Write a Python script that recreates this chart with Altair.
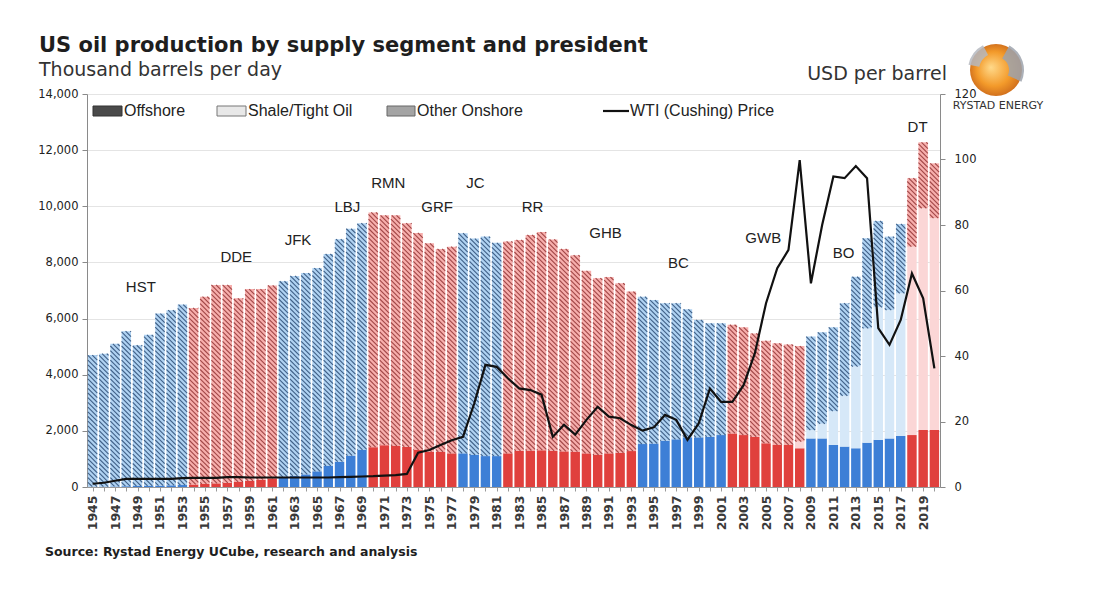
import math
import altair as alt
import pandas as pd

# ---------------- data ----------------
years = list(range(1945, 2021))

total = [4700, 4750, 5100, 5550, 5050, 5420, 6180, 6300, 6500,
         6380, 6780, 7200, 7200, 6720, 7050, 7050, 7180,
         7330, 7520, 7620, 7800, 8300, 8830, 9200, 9400,
         9780, 9680, 9680, 9400, 9050, 8680, 8480, 8560,
         9040, 8850, 8920, 8700,
         8750, 8800, 8980, 9080, 8820, 8480, 8260, 7700, 7440, 7480, 7260, 6960,
         6780, 6660, 6550, 6550, 6330, 5950, 5830, 5830,
         5780, 5690, 5470, 5210, 5120, 5080, 5020,
         5360, 5510, 5690, 6550, 7490, 8860, 9480, 8920, 9370,
         11000, 12280, 11530]

offshore = [10, 15, 20, 30, 35, 40, 50, 60, 70,
            90, 110, 130, 150, 180, 220, 260, 310,
            360, 400, 450, 560, 750, 900, 1120, 1320,
            1420, 1490, 1460, 1430, 1320, 1260, 1250, 1200,
            1200, 1140, 1100, 1100,
            1200, 1290, 1300, 1310, 1290, 1270, 1260, 1200, 1140, 1200, 1220, 1280,
            1530, 1550, 1650, 1700, 1770, 1770, 1790, 1850,
            1910, 1850, 1790, 1560, 1500, 1500, 1380,
            1730, 1730, 1500, 1440, 1380, 1580, 1680, 1730, 1820,
            1850, 2030, 2030]

shale = [0] * 63 + [240,
                    300, 520, 1200, 1810, 2910, 4070, 4720, 4570, 5080,
                    6710, 7900, 7545]

wti = [1.0, 1.3, 1.9, 2.5, 2.5, 2.5, 2.5, 2.5, 2.7,
       2.8, 2.8, 2.8, 3.0, 3.0, 2.9, 2.9, 2.9,
       2.9, 2.9, 2.9, 2.9, 2.9, 3.0, 3.1, 3.2,
       3.3, 3.5, 3.6, 4.0, 10.5, 11.3, 12.8, 14.3,
       15.3, 25.5, 37.3, 36.7,
       33.2, 30.1, 29.6, 28.2, 15.3, 19.0, 16.0, 20.5, 24.5, 21.5, 21.0, 18.9,
       17.2, 18.2, 22.0, 20.5, 14.4, 19.4, 30.1, 26.0,
       26.0, 31.1, 40.8, 56.1, 66.8, 72.4, 99.8,
       62.2, 80.0, 94.8, 94.3, 98.0, 94.3, 48.5, 43.4, 51.0,
       65.2, 57.6, 36.2]

# presidential terms as coloured in the chart (D = blue, R = red)
terms = [("D", 1945, 1953), ("R", 1954, 1961), ("D", 1962, 1969),
         ("R", 1970, 1977), ("D", 1978, 1981), ("R", 1982, 1993),
         ("D", 1994, 2001), ("R", 2002, 2008), ("D", 2009, 2017),
         ("R", 2018, 2020)]

pres_names = ["HST", "DDE", "JFK", "LBJ", "RMN", "GRF", "JC", "RR", "GHB",
              "BC", "GWB", "BO", "DT"]
pres_x = [1949.3, 1957.8, 1963.3, 1967.7, 1971.35, 1975.7, 1979.1, 1984.2,
          1990.7, 1997.2, 2004.75, 2011.9, 2018.5]
pres_y = [7130, 8200, 8800, 9990, 10830, 9990, 10830, 9980, 9050, 7980,
          8870, 8340, 12830]

# ---------------- layout / styles ----------------
W, H = 853, 393
Y_MAX, P_MAX = 14000, 120
HALF = 0.42  # half bar width in years

party = {}
for p, a, b in terms:
    for y in range(a, b + 1):
        party[y] = p

COLORS = {
    ("D", "off"): "#3d7fd6", ("D", "shale"): "#d6e8f8", ("D", "other"): "#afd2f2",
    ("R", "off"): "#e0403d", ("R", "shale"): "#fbd6d6", ("R", "other"): "#f7aeac",
}
STRIPE = {"D": "#3f5f86", "R": "#a04646"}

rows = []
for i, yr in enumerate(years):
    p = party[yr]
    o, s, t = offshore[i], shale[i], total[i]
    segs = [("off", 0, o), ("shale", o, o + s), ("other", o + s, t)]
    for name, a, b in segs:
        if b > a:
            rows.append(dict(xa=yr - HALF, xb=yr + HALF, ya=a, yb=b,
                             col=COLORS[(p, name)]))
bar_df = pd.DataFrame(rows)

# diagonal hatch for "Other Onshore" (derived from the values above)
xpx = W / (len(years))
ypx = H / Y_MAX
D = (2 * HALF * xpx) / ypx          # 45 degree drop across one bar
dy = 4.7 / ypx                      # vertical stripe spacing
hrows = []
for i, yr in enumerate(years):
    lo = offshore[i] + shale[i]
    hi = total[i]
    xl, xr = yr - HALF, yr + HALF
    k0 = math.floor(lo / dy)
    k1 = math.ceil((hi + D) / dy)
    for k in range(k0, k1 + 1):
        y0 = k * dy
        xa, ya = xl, y0
        xb, yb = xr, y0 - D
        if ya > hi:
            tt = (y0 - hi) / D
            xa = xl + tt * (xr - xl)
            ya = hi
        if yb < lo:
            tt = (y0 - lo) / D
            xb = xl + tt * (xr - xl)
            yb = lo
        if xb - xa > 0.03 and ya >= yb:
            hrows.append(dict(xa=xa, xb=xb, ya=ya, yb=yb,
                              col=STRIPE[party[yr]]))
hatch_df = pd.DataFrame(hrows)

line_df = pd.DataFrame({"year": years, "wti": wti})
lab_df = pd.DataFrame({"name": pres_names, "x": pres_x, "y": pres_y})

xscale = alt.Scale(domain=[1944.5, 2020.5], nice=False, zero=False)
yscale = alt.Scale(domain=[0, Y_MAX], nice=False)
pscale = alt.Scale(domain=[0, P_MAX], nice=False)

xaxis = alt.Axis(values=years, labelAngle=270, title=None, grid=False,
                 labelExpr="(datum.value - 1945) % 2 == 0 ? datum.label : ''",
                 format="d", labelFont="DejaVu Sans", labelFontSize=12.5,
                 labelFontWeight="bold", labelColor="#3a3a3a", labelFlush=False,
                 labelOverlap=False, labelPadding=4, tickSize=4,
                 tickColor="#9a9a9a", domainColor="#9a9a9a")
yaxis = alt.Axis(values=list(range(0, Y_MAX + 1, 2000)), format=",d", title=None,
                 labelFont="DejaVu Sans", labelFontSize=11.5, labelColor="#222",
                 tickSize=5, tickColor="#8a8a8a", domainColor="#8a8a8a",
                 labelPadding=4, grid=True, gridColor="#e4e4e4")
paxis = alt.Axis(orient="right", values=list(range(0, P_MAX + 1, 20)), title=None,
                 format="d",
                 labelFont="DejaVu Sans", labelFontSize=11.5, labelColor="#222",
                 tickSize=5, tickColor="#8a8a8a", domainColor="#8a8a8a",
                 labelPadding=9, grid=False)

bars = alt.Chart(bar_df).mark_rect().encode(
    x=alt.X("xa:Q", scale=xscale, axis=xaxis),
    x2="xb:Q",
    y=alt.Y("ya:Q", scale=yscale, axis=yaxis),
    y2="yb:Q",
    color=alt.Color("col:N", scale=None),
)

hatch = alt.Chart(hatch_df).mark_rule(strokeWidth=1.1).encode(
    x=alt.X("xa:Q", scale=xscale, axis=xaxis),
    x2="xb:Q",
    y=alt.Y("ya:Q", scale=yscale, axis=yaxis),
    y2="yb:Q",
    color=alt.Color("col:N", scale=None),
)

labels = alt.Chart(lab_df).mark_text(font="Liberation Sans", fontSize=15,
                                     color="#222", baseline="middle").encode(
    x=alt.X("x:Q", scale=xscale, axis=xaxis),
    y=alt.Y("y:Q", scale=yscale, axis=yaxis),
    text="name:N",
)

left = alt.layer(bars, hatch, labels)

price = alt.Chart(line_df).mark_line(color="#111111", strokeWidth=2.2).encode(
    x=alt.X("year:Q", scale=xscale, axis=xaxis),
    y=alt.Y("wti:Q", scale=pscale, axis=paxis),
)

one = pd.DataFrame({"d": [0]})


def txt(s, x, y, size, font="DejaVu Sans", weight="normal", color="#222",
        align="left", baseline="alphabetic"):
    return alt.Chart(one).mark_text(text=s, font=font, fontSize=size,
                                    fontWeight=weight, color=color, align=align,
                                    baseline=baseline).encode(
        x=alt.value(x), y=alt.value(y))


def box(x1, x2, y1, y2, fill, stroke):
    return alt.Chart(one).mark_rect(fill=fill, stroke=stroke, strokeWidth=1).encode(
        x=alt.value(x1), x2=alt.value(x2), y=alt.value(y1), y2=alt.value(y2))


annot = [
    txt("US oil production by supply segment and president", -48, -42, 21,
        weight="bold", color="#1e1e1e"),
    txt("Thousand barrels per day", -48, -18, 19, color="#333"),
    txt("USD per barrel", 860, -14, 19, color="#333", align="right"),
    txt("Source: Rystad Energy UCube, research and analysis", -42, 462, 12.5,
        weight="bold", color="#1e1e1e"),
    txt("RYSTAD ENERGY", 911, 15, 11, color="#333", align="center"),
    # legend
    box(6, 35, 12, 22, "#4a4a4a", "#333"),
    txt("Offshore", 37, 17, 16, font="Liberation Sans", baseline="middle"),
    box(130, 159, 12, 22, "#e8e8e8", "#777"),
    txt("Shale/Tight Oil", 161, 17, 16, font="Liberation Sans", baseline="middle"),
    box(300, 328, 12, 22, "#a4a4a4", "#666"),
    txt("Other Onshore", 330, 17, 16, font="Liberation Sans", baseline="middle"),
    alt.Chart(one).mark_rule(color="#111", strokeWidth=2.2).encode(
        x=alt.value(516), x2=alt.value(542), y=alt.value(17)),
    txt("WTI (Cushing) Price", 543, 17, 16, font="Liberation Sans",
        baseline="middle"),
]

# logo globe
globe = alt.Chart(one).mark_circle(
    size=2700, opacity=1,
    color={"gradient": "radial",
           "stops": [{"offset": 0, "color": "#ffd98a"},
                     {"offset": 0.6, "color": "#f39a2a"},
                     {"offset": 1, "color": "#c9661a"}],
           "x1": 0.4, "y1": 0.45, "r1": 0, "x2": 0.5, "y2": 0.5, "r2": 0.55},
).encode(x=alt.value(909), y=alt.value(-24))
patch1 = alt.Chart(one).mark_arc(theta=0.5, theta2=2.0, radius=28, radius2=13,
                                 color="#9ea3ad", opacity=0.85).encode(
    x=alt.value(909), y=alt.value(-24))
patch2 = alt.Chart(one).mark_arc(theta=4.9, theta2=5.8, radius=28, radius2=17,
                                 color="#b5b8bf", opacity=0.85).encode(
    x=alt.value(909), y=alt.value(-24))

chart = alt.layer(left, price, *annot, globe, patch1, patch2).resolve_scale(
    y="independent"
).properties(
    width=W, height=H,
    padding={"left": 87, "top": 94, "right": 1097 - 87 - W, "bottom": 609 - 94 - H},
    autosize=alt.AutoSizeParams(type="none"),
    background="white",
).configure_view(stroke=None)

chart.save("out.html", embed_options={"renderer": "svg", "actions": False})
